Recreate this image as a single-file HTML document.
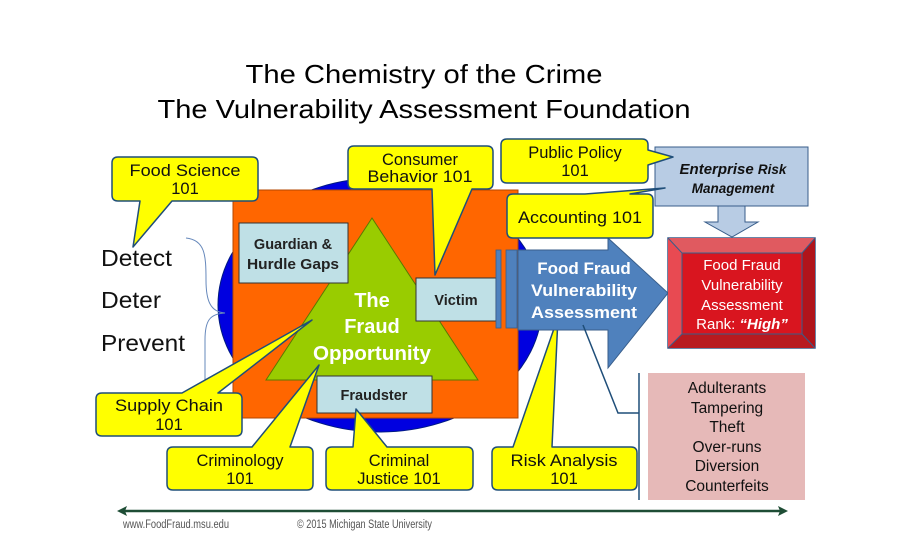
<!DOCTYPE html>
<html><head><meta charset="utf-8"><style>
html,body{margin:0;padding:0;background:#fff;}
svg{display:block;font-family:"Liberation Sans",Arial,sans-serif;}
</style></head><body>
<svg width="900" height="550" viewBox="0 0 900 550" xmlns="http://www.w3.org/2000/svg">
<rect width="900" height="550" fill="#fff"/>
<text x="424" y="83" font-size="26" text-anchor="middle" textLength="357" lengthAdjust="spacingAndGlyphs">The Chemistry of the Crime</text>
<text x="424" y="118" font-size="26" text-anchor="middle" textLength="533" lengthAdjust="spacingAndGlyphs">The Vulnerability Assessment Foundation</text>

<ellipse cx="380" cy="305" rx="162" ry="127" fill="#0000e0" stroke="#001a80" stroke-width="1"/>
<rect x="233" y="190" width="285" height="228" fill="#ff6600" stroke="#b34700" stroke-width="1"/>
<polygon points="372,218 266,380 478,380" fill="#99cc00" stroke="#5a7a00" stroke-width="1"/>
<text font-size="20" font-weight="bold" fill="#fff" text-anchor="middle"><tspan x="372" y="307">The</tspan><tspan x="372" y="333">Fraud</tspan><tspan x="372" y="360" textLength="118" lengthAdjust="spacingAndGlyphs">Opportunity</tspan></text>

<rect x="239" y="223" width="109" height="60" fill="#bfe0e6" stroke="#333" stroke-width="1"/>
<text font-size="14.5" font-weight="bold" fill="#222" text-anchor="middle"><tspan x="293" y="249">Guardian &amp;</tspan><tspan x="293" y="269" textLength="92" lengthAdjust="spacingAndGlyphs">Hurdle Gaps</tspan></text>
<rect x="416" y="278" width="80" height="43" fill="#bfe0e6" stroke="#333" stroke-width="1"/>
<text x="456" y="305" font-size="14.5" font-weight="bold" fill="#222" text-anchor="middle">Victim</text>
<rect x="317" y="376" width="115" height="37" fill="#bfe0e6" stroke="#333" stroke-width="1"/>
<text x="374" y="400" font-size="14.5" font-weight="bold" fill="#222" text-anchor="middle">Fraudster</text>

<path d="M186,238 C205,240 206,255 206,280 C206,300 210,312 225,313 C210,314 205,320 205,340 L205,380" fill="none" stroke="#6688bb" stroke-width="1"/>
<text font-size="23" fill="#111"><tspan x="101" y="266" textLength="71" lengthAdjust="spacingAndGlyphs">Detect</tspan><tspan x="101" y="308" textLength="60" lengthAdjust="spacingAndGlyphs">Deter</tspan><tspan x="101" y="351" textLength="84" lengthAdjust="spacingAndGlyphs">Prevent</tspan></text>

<g fill="#ffff00" stroke="#1f4e79" stroke-width="1.5" stroke-linejoin="round">
<path d="M118,157 H252 Q258,157 258,163 V195 Q258,201 252,201 H172 L133,247 L140,201 H118 Q112,201 112,195 V163 Q112,157 118,157 Z"/>
<path d="M354,146 H487 Q493,146 493,152 V183 Q493,189 487,189 H472 L435,275 L432,189 H354 Q348,189 348,183 V152 Q348,146 354,146 Z"/>
<path d="M102,393 H182 L312,320 L218,393 H236 Q242,393 242,399 V430 Q242,436 236,436 H102 Q96,436 96,430 V399 Q96,393 102,393 Z"/>
<path d="M173,447 H252 L319,365 L290,447 H307 Q313,447 313,453 V484 Q313,490 307,490 H173 Q167,490 167,484 V453 Q167,447 173,447 Z"/>
<path d="M332,447 H353 L356,409 L387,447 H467 Q473,447 473,453 V484 Q473,490 467,490 H332 Q326,490 326,484 V453 Q326,447 332,447 Z"/>
<path d="M498,447 H513 L558,317 L552,447 H631 Q637,447 637,453 V484 Q637,490 631,490 H498 Q492,490 492,484 V453 Q492,447 498,447 Z"/>
</g>
<g font-size="16.5" fill="#111" text-anchor="middle">
<text><tspan x="185" y="176" textLength="111" lengthAdjust="spacingAndGlyphs">Food Science</tspan><tspan x="185" y="194">101</tspan></text>
<text><tspan x="420" y="165">Consumer</tspan><tspan x="420" y="182" textLength="105" lengthAdjust="spacingAndGlyphs">Behavior 101</tspan></text>
<text><tspan x="169" y="411" textLength="108" lengthAdjust="spacingAndGlyphs">Supply Chain</tspan><tspan x="169" y="430">101</tspan></text>
<text><tspan x="240" y="466">Criminology</tspan><tspan x="240" y="484">101</tspan></text>
<text><tspan x="399" y="466">Criminal</tspan><tspan x="399" y="484">Justice 101</tspan></text>
<text><tspan x="564" y="466" textLength="107" lengthAdjust="spacingAndGlyphs">Risk Analysis</tspan><tspan x="564" y="484">101</tspan></text>
</g>

<polygon points="518,250 608,250 608,238 668,293 608,368 608,330 518,330" fill="#4f81bd" stroke="#385d8a" stroke-width="1"/>
<rect x="496" y="250" width="5" height="78" fill="#4f81bd" stroke="#385d8a" stroke-width="0.8"/>
<rect x="506" y="250" width="11" height="78" fill="#4f81bd" stroke="#385d8a" stroke-width="0.8"/>
<text font-size="17" font-weight="bold" fill="#fff" text-anchor="middle"><tspan x="584" y="274">Food Fraud</tspan><tspan x="584" y="296" textLength="106" lengthAdjust="spacingAndGlyphs">Vulnerability</tspan><tspan x="584" y="318" textLength="106" lengthAdjust="spacingAndGlyphs">Assessment</tspan></text>

<rect x="655" y="147" width="153" height="59" fill="#b8cce4" stroke="#385d8a" stroke-width="1"/>
<polygon points="718,206 745,206 745,222 758,222 732,237 705,222 718,222" fill="#b8cce4" stroke="#385d8a" stroke-width="1"/>
<text x="733" y="174" font-size="15" font-weight="bold" font-style="italic" text-anchor="middle" fill="#111">Enterprise <tspan font-size="13.5">Risk</tspan></text>
<text x="733" y="193" font-size="13.5" font-weight="bold" font-style="italic" text-anchor="middle" fill="#111">Management</text>

<g fill="#ffff00" stroke="#1f4e79" stroke-width="1.5" stroke-linejoin="round">
<path d="M507,139 H642 Q648,139 648,145 V150 L673,157 L648,165 V177 Q648,183 642,183 H507 Q501,183 501,177 V145 Q501,139 507,139 Z"/>
<path d="M513,194 H585 L665,188 L630,194 H647 Q653,194 653,200 V232 Q653,238 647,238 H513 Q507,238 507,232 V200 Q507,194 513,194 Z"/>
</g>
<text font-size="16.5" fill="#111" text-anchor="middle"><tspan x="575" y="158">Public Policy</tspan><tspan x="575" y="176">101</tspan></text>
<text x="580" y="223" font-size="16.5" fill="#111" text-anchor="middle" textLength="124" lengthAdjust="spacingAndGlyphs">Accounting 101</text>

<rect x="668" y="238" width="147" height="110" fill="#cc1f26" stroke="#385d8a" stroke-width="1.5"/>
<polygon points="668,238 815,238 802,253 682,253" fill="#e05a60"/>
<polygon points="668,238 682,253 682,334 668,348" fill="#e84a52"/>
<polygon points="815,238 815,348 802,334 802,253" fill="#b0141b"/>
<polygon points="668,348 682,334 802,334 815,348" fill="#b81a20"/>
<rect x="682" y="253" width="120" height="81" fill="#d9151f" stroke="#385d8a" stroke-width="1"/>
<path d="M668,238 L682,253 M815,238 L802,253 M668,348 L682,334 M815,348 L802,334" stroke="#385d8a" stroke-width="1"/>
<text font-size="15" fill="#fff" text-anchor="middle"><tspan x="742" y="270">Food Fraud</tspan><tspan x="742" y="290">Vulnerability</tspan><tspan x="742" y="310">Assessment</tspan><tspan x="742" y="329">Rank: <tspan font-weight="bold" font-style="italic">“High”</tspan></tspan></text>

<path d="M583,325 L618,413 H639 M639,373 V500" fill="none" stroke="#1f4e79" stroke-width="1.5"/>
<rect x="648" y="373" width="157" height="127" fill="#e6b9b8"/>
<text font-size="15.5" fill="#111" text-anchor="middle"><tspan x="727" y="393">Adulterants</tspan><tspan x="727" y="413">Tampering</tspan><tspan x="727" y="432">Theft</tspan><tspan x="727" y="452">Over-runs</tspan><tspan x="727" y="471">Diversion</tspan><tspan x="727" y="491">Counterfeits</tspan></text>

<line x1="125" y1="511" x2="780" y2="511" stroke="#1e4d35" stroke-width="2.5"/>
<polygon points="117,511 127,506 125,511 127,516" fill="#1e4d35"/>
<polygon points="788,511 778,506 780,511 778,516" fill="#1e4d35"/>
<text x="123" y="528" font-size="11.5" fill="#555" textLength="106" lengthAdjust="spacingAndGlyphs">www.FoodFraud.msu.edu</text>
<text x="297" y="528" font-size="11.5" fill="#555" textLength="135" lengthAdjust="spacingAndGlyphs">© 2015 Michigan State University</text>
</svg>
</body></html>
